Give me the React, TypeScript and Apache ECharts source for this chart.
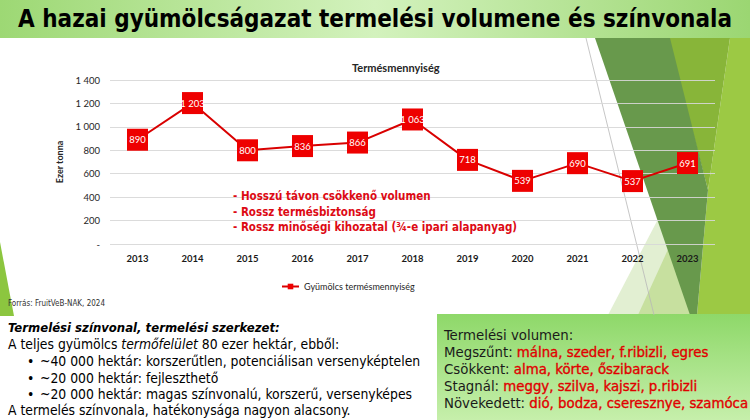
import React, { useEffect, useRef } from "react";
import * as echarts from "echarts";

const years = ["2013", "2014", "2015", "2016", "2017", "2018", "2019", "2020", "2021", "2022", "2023"];
const volumes = [890, 1203, 800, 836, 866, 1063, 718, 539, 690, 537, 691];
const seriesName = "Gyümölcs termésmennyiség";
const chartTitle = "Termésmennyiség";
const yAxisName = "Ezer tonna";
const slideTitle = "A hazai gyümölcságazat termelési volumene és színvonala";
const source = "Forrás: FruitVeB-NAK, 2024";
const annotations = [
  "- Hosszú távon csökkenő volumen",
  "- Rossz termésbiztonság",
  "- Rossz minőségi kihozatal (¾-e ipari alapanyag)",
];
const bullets = [
  "~40 000 hektár: korszerűtlen, potenciálisan versenyképtelen",
  "~20 000 hektár: fejleszthető",
  "~20 000 hektár: magas színvonalú, korszerű, versenyképes",
];
const volumeGroups = [
  ["Megszűnt: ", "málna, szeder, f.ribizli, egres"],
  ["Csökkent: ", "alma, körte, őszibarack"],
  ["Stagnál: ", "meggy, szilva, kajszi, p.ribizli"],
  ["Növekedett: ", "dió, bodza, cseresznye, szamóca"],
];

const fmt = (v: number) =>
  v >= 1000 ? `${Math.floor(v / 1000)} ${String(v % 1000).padStart(3, "0")}` : String(v);

const SLIDE_FONT = "'DejaVu Sans Condensed', 'DejaVu Sans', sans-serif";
const CHART_FONT = "Lato, 'Open Sans', sans-serif";
const RED = "#e00000";

export default function App() {
  const ref = useRef<HTMLDivElement>(null);
  useEffect(() => {
    document.body.style.margin = "0";
    const chart = echarts.init(ref.current!, undefined, { renderer: "svg" });
    const deco: any[] = [
      {
        type: "rect",
        z: -10,
        shape: { x: 0, y: 0, width: 750, height: 38 },
        style: {
          fill: new echarts.graphic.LinearGradient(0, 0, 1, 0, [
            { offset: 0, color: "#9dd874" },
            { offset: 0.5, color: "#d3f2bd" },
            { offset: 1, color: "#9bd672" },
          ]),
        },
      },
      {
        type: "polygon",
        z: -10,
        shape: { points: [[730, 38], [750, 38], [750, 315], [697, 315], [708, 190]] },
        style: { fill: "#9cc944" },
      },
      {
        type: "polygon",
        z: -10,
        shape: { points: [[668, 38], [730, 38], [708, 190]] },
        style: { fill: "#88b539" },
      },
      {
        type: "polygon",
        z: -10,
        shape: { points: [[608, 315], [668, 200], [692, 315]] },
        style: { fill: "#e2efd2" },
      },
      {
        type: "polygon",
        z: -10,
        shape: { points: [[638, 315], [676, 232], [694, 315]] },
        style: { fill: "#c7e09f" },
      },
      {
        type: "polygon",
        z: -10,
        shape: { points: [[595, 38], [670, 38], [708, 190], [697, 315], [690, 315]] },
        style: { fill: "#68994c" },
      },
      {
        type: "line",
        z: -9,
        shape: { x1: 586, y1: 38, x2: 654, y2: 315 },
        style: { stroke: "#b8b8b8", lineWidth: 0.8 },
      },
      {
        type: "polygon",
        z: -10,
        shape: { points: [[0, 242], [14, 316], [0, 316]] },
        style: { fill: "#8cc63f" },
      },
      {
        type: "rect",
        z: -10,
        shape: { x: 437, y: 314, width: 313, height: 106 },
        style: {
          fill: new echarts.graphic.LinearGradient(0, 0, 0, 1, [
            { offset: 0, color: "#8ed869" },
            { offset: 1, color: "#c6efab" },
          ]),
        },
      },
    ];

    const leftText = (text: string, x: number, y: number, font: string) => ({
      type: "text",
      z: 10,
      style: { text, x, y, textVerticalAlign: "middle", font, fill: "#000" },
    });

    const texts: any[] = [
      {
        type: "text",
        z: 10,
        style: {
          text: slideTitle,
          x: 375,
          y: 19,
          textAlign: "center",
          textVerticalAlign: "middle",
          font: `bold 24px ${SLIDE_FONT}`,
          fill: "#000",
        },
      },
      ...annotations.map((t, i) => ({
        type: "text",
        z: 10,
        style: {
          text: t,
          x: 233,
          y: 196 + i * 15.5,
          textVerticalAlign: "middle",
          font: `bold 11.5px ${SLIDE_FONT}`,
          fill: "#dd0a14",
        },
      })),
      {
        type: "text",
        z: 10,
        style: {
          text: source,
          x: 8,
          y: 303,
          textVerticalAlign: "middle",
          font: `8px ${SLIDE_FONT}`,
          fill: "#333",
        },
      },
      leftText("Termelési színvonal, termelési szerkezet:", 8, 327, `italic bold 13px ${SLIDE_FONT}`),
      {
        type: "text",
        z: 10,
        style: {
          text: "{n|A teljes gyümölcs }{i|termőfelület}{n| 80 ezer hektár, ebből:}",
          x: 8,
          y: 344,
          textVerticalAlign: "middle",
          rich: {
            n: { fontFamily: SLIDE_FONT, fontSize: 13.8, fill: "#000" },
            i: { fontFamily: SLIDE_FONT, fontSize: 13.8, fontStyle: "italic", fill: "#000" },
          },
        },
      },
      ...bullets.flatMap((t, i) => [
        leftText("•", 27, 361 + i * 16.5, `13.8px ${SLIDE_FONT}`),
        leftText(t, 40, 361 + i * 16.5, `13.8px ${SLIDE_FONT}`),
      ]),
      leftText("A termelés színvonala, hatékonysága nagyon alacsony.", 8, 410, `13.8px ${SLIDE_FONT}`),
      {
        type: "text",
        z: 10,
        style: {
          text: "Termelési volumen:",
          x: 444,
          y: 334,
          textVerticalAlign: "middle",
          font: `14.8px ${SLIDE_FONT}`,
          fill: "#1a1a1a",
        },
      },
      ...volumeGroups.map(([a, b], i) => ({
        type: "text",
        z: 10,
        style: {
          text: `{a|${a}}{b|${b}}`,
          x: 444,
          y: 351 + i * 17,
          textVerticalAlign: "middle",
          rich: {
            a: { fontFamily: SLIDE_FONT, fontSize: 14.8, fill: "#1a1a1a" },
            b: { fontFamily: SLIDE_FONT, fontSize: 14.8, fill: RED, stroke: RED, lineWidth: 0.35 },
          },
        },
      })),
    ];

    chart.setOption({
      animation: false,
      backgroundColor: "#ffffff",
      title: {
        text: chartTitle,
        left: 347,
        top: 57,
        textStyle: { fontFamily: CHART_FONT, fontSize: 11, fontWeight: "bold", color: "#262626" },
      },
      legend: {
        data: [seriesName],
        left: 276,
        top: 277,
        itemWidth: 17,
        itemHeight: 7,
        itemGap: 4,
        textStyle: { fontFamily: CHART_FONT, fontSize: 9, color: "#262626" },
      },
      grid: { left: 110, right: 35, top: 80, bottom: 176, containLabel: false },
      xAxis: {
        type: "category",
        data: years,
        z: 5,
        axisLine: { show: false },
        axisTick: { show: false },
        axisLabel: { fontFamily: CHART_FONT, fontSize: 9.5, fontWeight: "bold", color: "#1a1a1a", margin: 9 },
      },
      yAxis: {
        type: "value",
        min: 0,
        max: 1400,
        interval: 200,
        z: 5,
        name: yAxisName,
        nameLocation: "middle",
        nameGap: 46,
        nameTextStyle: { fontFamily: CHART_FONT, fontSize: 9, fontWeight: "bold", color: "#262626" },
        axisLine: { show: false },
        axisTick: { show: false },
        splitLine: { lineStyle: { color: "rgba(215,215,215,0.9)", width: 1 } },
        axisLabel: {
          fontFamily: CHART_FONT,
          fontSize: 9.5,
          color: "#262626",
          margin: 10,
          formatter: (v: number) => (v === 0 ? "-" : fmt(v)),
        },
      },
      series: [
        {
          name: seriesName,
          type: "line",
          data: volumes,
          z: 8,
          symbol: "rect",
          symbolSize: [21, 22],
          lineStyle: { color: "#d90000", width: 2 },
          itemStyle: { color: "#ee0000" },
          label: {
            show: true,
            position: "inside",
            fontFamily: CHART_FONT,
            fontSize: 9.5,
            color: "#ffffff",
            formatter: (p: any) => fmt(p.value),
          },
        },
      ],
      graphic: { elements: [...deco, ...texts] },
    });
    return () => chart.dispose();
  }, []);
  return <div ref={ref} style={{ width: 750, height: 420 }} />;
}
